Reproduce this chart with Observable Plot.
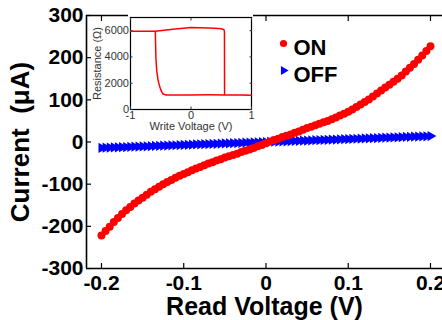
<!DOCTYPE html>
<html>
<head>
<meta charset="utf-8">
<script src="https://cdn.jsdelivr.net/npm/d3@7"></script>
<script src="https://cdn.jsdelivr.net/npm/@observablehq/plot@0.6"></script>
<style>
  html, body { margin: 0; padding: 0; background: #fff; }
  #wrap { position: relative; width: 442px; height: 320px; overflow: hidden; }
  #inset { position: absolute; left: 128px; top: 11px; background: #fff; }
  #inset svg { overflow: visible; }
</style>
</head>
<body>
<div id="wrap"><div id="main"></div><div id="inset"></div></div>
<script>
// Read voltage sweep (V)
const readVoltage = [
  -0.200,-0.195,-0.190,-0.185,-0.180,-0.175,-0.170,-0.165,-0.160,-0.155,
  -0.150,-0.145,-0.140,-0.135,-0.130,-0.125,-0.120,-0.115,-0.110,-0.105,
  -0.100,-0.095,-0.090,-0.085,-0.080,-0.075,-0.070,-0.065,-0.060,-0.055,
  -0.050,-0.045,-0.040,-0.035,-0.030,-0.025,-0.020,-0.015,-0.010,-0.005,
   0.000, 0.005, 0.010, 0.015, 0.020, 0.025, 0.030, 0.035, 0.040, 0.045,
   0.050, 0.055, 0.060, 0.065, 0.070, 0.075, 0.080, 0.085, 0.090, 0.095,
   0.100, 0.105, 0.110, 0.115, 0.120, 0.125, 0.130, 0.135, 0.140, 0.145,
   0.150, 0.155, 0.160, 0.165, 0.170, 0.175, 0.180, 0.185, 0.190, 0.195,
   0.200
];
// ON-state current (µA)
const onCurrent = [
  -222,-211,-201,-190,-180,-171,-162,-154,-146,-139,
  -132,-125,-118,-112,-106,-100, -95, -90, -85, -80,
   -76, -72, -67, -63, -59, -55, -51, -48, -44, -41,
   -37, -34, -31, -28, -24, -21, -18, -14, -10,  -7,
    -3,   1,   5,   8,  12,  15,  18,  22,  25,  29,
    33,  36,  40,  43,  47,  50,  54,  58,  63,  67,
    72,  77,  83,  89,  95, 101, 108, 115, 122, 129,
   136, 143, 150, 158, 167, 176, 185, 195, 205, 216,
   227
];
// OFF-state current (µA)
const offCurrent = [
  -14.0,-13.6,-13.3,-12.9,-12.6,-12.2,-11.9,-11.5,-11.2,-10.8,
  -10.5,-10.1, -9.8, -9.4, -9.1, -8.7, -8.4, -8.0, -7.7, -7.3,
   -7.0, -6.6, -6.3, -5.9, -5.6, -5.2, -4.9, -4.5, -4.2, -3.8,
   -3.5, -3.1, -2.8, -2.4, -2.1, -1.7, -1.4, -1.0, -0.7, -0.3,
    0.0,  0.3,  0.7,  1.0,  1.4,  1.7,  2.1,  2.4,  2.8,  3.1,
    3.5,  3.8,  4.2,  4.5,  4.9,  5.2,  5.6,  5.9,  6.3,  6.6,
    7.0,  7.3,  7.7,  8.0,  8.4,  8.7,  9.1,  9.4,  9.8, 10.1,
   10.5, 10.8, 11.2, 11.5, 11.9, 12.2, 12.6, 12.9, 13.3, 13.6,
   14.0
];
const seriesNames = ["ON", "OFF"];
const xTicks = [-0.2, -0.1, 0, 0.1, 0.2];
const yTicks = [-300, -200, -100, 0, 100, 200, 300];
const xDomain = [-0.2182, 0.2146];
const yDomain = [-300, 300];

// Inset: resistance vs write voltage (hysteresis loop)
const writeVoltage = [-1, -0.8, -0.59, -0.3, 0, 0.3, 0.45, 0.5, 0.545, 0.553, 0.555, 0.7, 0.85, 1,
                      1, 0.8, 0.555, 0.3, 0, -0.2, -0.42, -0.46, -0.48, -0.505, -0.53, -0.548, -0.565, -0.58, -0.59];
const resistance   = [5950, 5950, 5960, 6100, 6230, 6210, 6170, 6150, 6080, 5900, 1110, 1100, 1095, 1090,
                      1090, 1095, 1110, 1120, 1110, 1110, 1110, 1180, 1300, 1570, 1950, 2330, 2900, 3900, 5960];
const insetXTicks = [-1, 0, 1];
const insetYTicks = [0, 2000, 4000, 6000];

const onData = readVoltage.map((v, k) => ({v, i: onCurrent[k], s: seriesNames[0]}));
const offData = readVoltage.map((v, k) => ({v, i: offCurrent[k], s: seriesNames[1]}));
const loop = writeVoltage.map((v, k) => ({v, r: resistance[k]}));

const font = "'Liberation Sans', Arial, Helvetica, sans-serif";

const main = Plot.plot({
  width: 442, height: 320,
  marginLeft: 86, marginRight: 0, marginTop: 15, marginBottom: 52,
  x: {domain: xDomain},
  y: {domain: yDomain},
  style: {fontFamily: font, fontWeight: "bold", color: "#000", background: "#fff", overflow: "visible"},
  marks: [
    Plot.ruleY([yDomain[0], yDomain[1]], {stroke: "#000", strokeWidth: 1.6}),
    Plot.ruleX([xDomain[0]], {stroke: "#000", strokeWidth: 1.6}),
    Plot.axisX({anchor: "bottom", ticks: xTicks, tickSize: -5, tickPadding: 12, tickFormat: d => String(d),
      fontSize: 21, fontWeight: "bold", strokeWidth: 1.2,
      label: "Read Voltage (V)", labelAnchor: "center", labelArrow: "none", labelOffset: 46}),
    Plot.axisX({anchor: "top", ticks: xTicks, tickSize: -5, tickFormat: () => "", label: null, strokeWidth: 1.2}),
    Plot.axisY({anchor: "left", ticks: yTicks, tickSize: -5, tickPadding: 8, tickFormat: d => String(d),
      fontSize: 21, fontWeight: "bold", strokeWidth: 1.2,
      label: "Current  (μA)", labelAnchor: "center", labelArrow: "none", labelOffset: 76}),
    Plot.dot(offData, {x: "v", y: "i", symbol: "triangle", rotate: 90, r: 3.8, fill: "#0000ff", stroke: "none"}),
    Plot.dot(onData, {x: "v", y: "i", symbol: "circle", r: 4, fill: "#ff0000", stroke: "none"}),
    // legend
    Plot.dot([seriesNames[0]], {frameAnchor: "top-left", dx: 197, dy: 28, r: 3.6, fill: "#ff0000"}),
    Plot.dot([seriesNames[1]], {frameAnchor: "top-left", dx: 197, dy: 55, symbol: "triangle", rotate: 90, r: 3.3, fill: "#0000ff"}),
    Plot.text([seriesNames[0]], {frameAnchor: "top-left", dx: 207, dy: 24, text: d => d, textAnchor: "start", fontSize: 22, fontWeight: "bold"}),
    Plot.text([seriesNames[1]], {frameAnchor: "top-left", dx: 207, dy: 51, text: d => d, textAnchor: "start", fontSize: 22, fontWeight: "bold"})
  ]
});
main.querySelectorAll("g[aria-label='x-axis label'] text, g[aria-label='x-axis label']").forEach(e => e.setAttribute("font-size", 25));
main.querySelectorAll("g[aria-label='y-axis label'] text, g[aria-label='y-axis label']").forEach(e => e.setAttribute("font-size", 26));
document.getElementById("main").appendChild(main);

const inset = Plot.plot({
  width: 125, height: 120,
  marginLeft: 2, marginRight: 2, marginTop: 6, marginBottom: 22,
  x: {domain: [-1, 1]},
  y: {domain: [0, 7000]},
  style: {fontFamily: font, fontSize: "11px", color: "#333", background: "#fff", overflow: "visible"},
  marks: [
    Plot.frame({stroke: "#000", strokeWidth: 1.2}),
    Plot.axisX({anchor: "bottom", ticks: insetXTicks, tickSize: -2.5, tickPadding: 4, tickFormat: d => String(d),
      fontSize: 11, label: "Write Voltage (V)", labelAnchor: "center", labelArrow: "none", labelOffset: 20}),
    Plot.axisX({anchor: "top", ticks: insetXTicks, tickSize: -2.5, tickFormat: () => "", label: null}),
    Plot.axisY({anchor: "left", ticks: insetYTicks, tickSize: -2.5, tickPadding: 4, tickFormat: d => String(d),
      fontSize: 11, label: "Resistance (Ω)", labelAnchor: "center", labelArrow: "none", labelOffset: 37}),
    Plot.axisY({anchor: "right", ticks: insetYTicks, tickSize: -2.5, tickFormat: () => "", label: null}),
    Plot.line(loop, {x: "v", y: "r", stroke: "#ff0000", strokeWidth: 1.5, curve: "linear"})
  ]
});
document.getElementById("inset").appendChild(inset);
</script>
</body>
</html>
